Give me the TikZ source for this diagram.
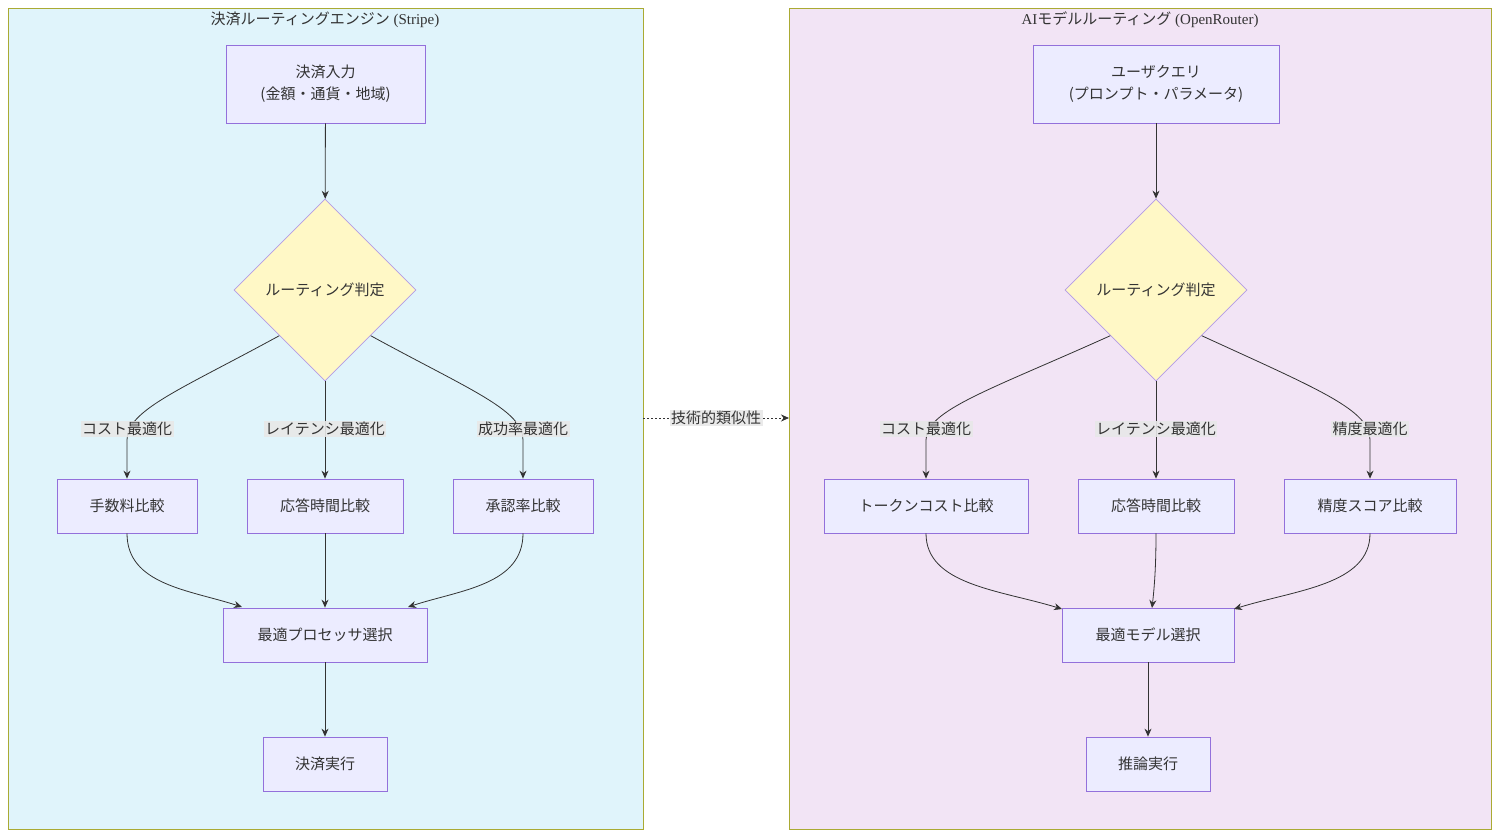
\documentclass[tikz,border=0pt]{standalone}
\usepackage{fontspec}
\setmainfont{Liberation Serif}
\newfontfamily\cjk{Noto Sans CJK JP}
\usetikzlibrary{shapes.geometric,arrows.meta}
\definecolor{nfill}{HTML}{ECECFF}
\definecolor{nbord}{HTML}{9370DB}
\definecolor{cbord}{HTML}{AAAA33}
\definecolor{lfill}{HTML}{E0F4FB}
\definecolor{rfill}{HTML}{F2E4F5}
\definecolor{dfill}{HTML}{FFF8C6}
\definecolor{lab}{HTML}{E8E8E8}
\definecolor{ln}{HTML}{333333}
\begin{document}
\begin{tikzpicture}[x=1pt,y=-1pt,
  box/.style={draw=nbord,fill=nfill,line width=0.8pt,inner sep=0pt,font=\cjk\fontsize{15}{22}\selectfont,text=ln,align=center},
  dia/.style={diamond,draw=nbord!70,fill=dfill,line width=0.8pt,minimum width=182pt,minimum height=182pt,inner sep=0pt,font=\cjk\fontsize{15}{19}\selectfont,text=ln},
  lbl/.style={fill=lab,fill opacity=0.9,text opacity=1,inner sep=1.5pt,font=\cjk\fontsize{15}{19}\selectfont,text=ln},
  clu/.style={draw=cbord,line width=0.8pt},
  arr/.style={draw=ln,line width=0.8pt,-{Stealth[length=8pt,width=7pt]}},
  ttl/.style={font=\fontsize{15}{19}\selectfont,text=ln}]
\useasboundingbox (0,0) rectangle (1499,837);
\draw[clu,fill=lfill] (8,8) rectangle (643,829);
\draw[clu,fill=rfill] (789,8) rectangle (1491,829);
\node[ttl] at (325,20) {{\cjk 決済ルーティングエンジン} (Stripe)};
\node[ttl] at (1140,20) {AI{\cjk モデルルーティング} (OpenRouter)};
\coordinate (cl) at (643,418);
\coordinate (cr) at (789,418);
% left
\node[box,minimum width=199pt,minimum height=78pt] (a1) at (325.5,84) {決済入力\\(金額・通貨・地域)};
\node[dia] (a2) at (325,290) {ルーティング判定};
\node[box,minimum width=140pt,minimum height=54pt] (a3) at (127,506) {手数料比較};
\node[box,minimum width=156pt,minimum height=54pt] (a4) at (325,506) {応答時間比較};
\node[box,minimum width=140pt,minimum height=54pt] (a5) at (523,506) {承認率比較};
\node[box,minimum width=204pt,minimum height=54pt] (a6) at (325,635) {最適プロセッサ選択};
\node[box,minimum width=124pt,minimum height=54pt] (a7) at (325,764) {決済実行};
\draw[arr] (a1) -- (a2);
\draw[arr] (a2.south west) .. controls (180,390) and (127,410) .. (127,440) -- (a3.north);
\draw[arr] (a2) -- (a4);
\draw[arr] (a2.south east) .. controls (470,390) and (523,410) .. (523,440) -- (a5.north);
\node[lbl] at (127,429) {コスト最適化};
\node[lbl] at (325,429) {レイテンシ最適化};
\node[lbl] at (523,429) {成功率最適化};
\draw[arr] (a3.south) .. controls (127,585) and (190,590) .. (242,607);
\draw[arr] (a4) -- (a6);
\draw[arr] (a5.south) .. controls (523,585) and (460,590) .. (408,607);
\draw[arr] (a6) -- (a7);
% right
\node[box,minimum width=246pt,minimum height=78pt] (b1) at (1156,84) {ユーザクエリ\\(プロンプト・パラメータ)};
\node[dia] (b2) at (1156,290) {ルーティング判定};
\node[box,minimum width=204pt,minimum height=54pt] (b3) at (926,506) {トークンコスト比較};
\node[box,minimum width=156pt,minimum height=54pt] (b4) at (1156,506) {応答時間比較};
\node[box,minimum width=172pt,minimum height=54pt] (b5) at (1370,506) {精度スコア比較};
\node[box,minimum width=172pt,minimum height=54pt] (b6) at (1148,635) {最適モデル選択};
\node[box,minimum width=124pt,minimum height=54pt] (b7) at (1148,764) {推論実行};
\draw[arr] (b1) -- (b2);
\draw[arr] (b2.south west) .. controls (990,390) and (926,410) .. (926,440) -- (b3.north);
\draw[arr] (b2) -- (b4);
\draw[arr] (b2.south east) .. controls (1320,390) and (1370,410) .. (1370,440) -- (b5.north);
\node[lbl] at (926,429) {コスト最適化};
\node[lbl] at (1156,429) {レイテンシ最適化};
\node[lbl] at (1370,429) {精度最適化};
\draw[arr] (b3.south) .. controls (926,585) and (1000,590) .. (1062,609);
\draw[arr] (b4.south) .. controls (1156,570) and (1154,590) .. (1152,608);
\draw[arr] (b5.south) .. controls (1370,585) and (1295,590) .. (1234,609);
\draw[arr] (b6) -- (b7);
% cross link
\draw[arr,dashed,dash pattern=on 2pt off 2pt] (cl) -- (cr);
\node[lbl] at (716,418) {技術的類似性};
\end{tikzpicture}
\end{document}
